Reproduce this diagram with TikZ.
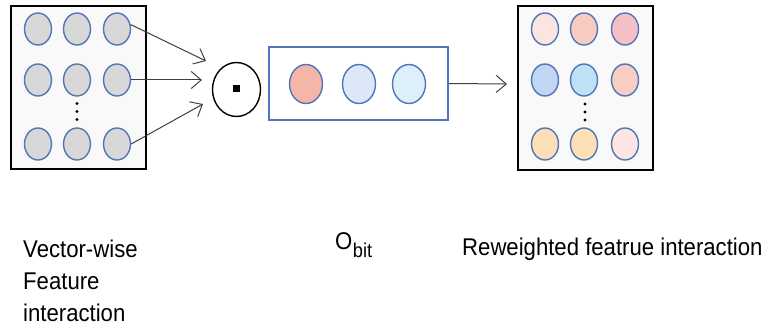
\documentclass[tikz,border=0pt]{standalone}
\usepackage{fontspec}
\setmainfont{Liberation Sans}[FakeStretch=0.915]
\usetikzlibrary{arrows.meta,shapes.geometric}

\definecolor{ringblue}{HTML}{4F76B8}
\definecolor{boxgray}{HTML}{F9F9F9}
\definecolor{cellgray}{HTML}{D8D8D8}
\definecolor{arrowgray}{HTML}{404040}
\definecolor{pa}{HTML}{FCE4E0}
\definecolor{pb}{HTML}{F8CBC0}
\definecolor{pc}{HTML}{F5BFC8}
\definecolor{ba}{HTML}{C2D5F2}
\definecolor{bb}{HTML}{BDE3F5}
\definecolor{pd}{HTML}{F9CDC4}
\definecolor{oa}{HTML}{FDDFB5}
\definecolor{pe}{HTML}{FDE5E2}
\definecolor{wa}{HTML}{F4B6A6}
\definecolor{wb}{HTML}{DCE7F8}
\definecolor{wc}{HTML}{DDEFFA}

\tikzset{
  panel/.style={draw=black, line width=2.4pt, fill=boxgray},
  cell/.style={ellipse, draw=ringblue, line width=1.4pt, inner sep=0pt,
               minimum width=27pt, minimum height=32pt},
  wcell/.style={ellipse, draw=ringblue, line width=1.4pt, inner sep=0pt,
               minimum width=33pt, minimum height=39pt},
  vdot/.style={circle, fill=black, inner sep=0pt, minimum size=3.4pt},
  feed/.style={draw=arrowgray, line width=1pt,
               -{Straight Barb[length=10pt,width=17pt,line width=1pt]}},
  caption/.style={anchor=base west, inner sep=0pt, font=\fontsize{24.2}{32}\selectfont}
}

\begin{document}
\begin{tikzpicture}[x=1pt,y=-1pt]
\useasboundingbox (0,0) rectangle (766,329);

% input interaction matrix
\node[panel, minimum width=135pt, minimum height=163pt, inner sep=0pt] (inbox) at (78.5,87.5) {};
\node[cell, fill=cellgray] (c11) at (38,29) {};
\node[cell, fill=cellgray] (c12) at (77,29) {};
\node[cell, fill=cellgray] (c13) at (117,29) {};
\node[cell, fill=cellgray] (c21) at (38,80) {};
\node[cell, fill=cellgray] (c22) at (77,80) {};
\node[cell, fill=cellgray] (c23) at (117,80) {};
\node[cell, fill=cellgray] (c31) at (38,144) {};
\node[cell, fill=cellgray] (c32) at (77,144) {};
\node[cell, fill=cellgray] (c33) at (117,144) {};
\node[vdot] (ld1) at (77,103.5) {};
\node[vdot] (ld2) at (77,111.5) {};
\node[vdot] (ld3) at (77,119.5) {};

% element-wise product operator
\node[ellipse, draw=black, line width=1.4pt, minimum width=48pt, minimum height=54pt, inner sep=0pt] (prod) at (236.5,89.5) {};
\node[rectangle, fill=black, minimum size=7pt, inner sep=0pt] (prodc) at (236,89) {};

\coordinate (t1) at (206,61);
\coordinate (t2) at (202,80);
\coordinate (t3) at (203,104);
\draw[feed] (c13.18) -- (t1);
\draw[feed] (c23.east) -- (t2);
\draw[feed] (c33.east) -- (t3);

% bit-wise weight vector
\node[draw=ringblue, line width=1.5pt, fill=white, minimum width=179pt, minimum height=73pt, inner sep=0pt] (wbox) at (358.5,83.5) {};
\node[wcell, fill=wa] (w1) at (306,84) {};
\node[wcell, fill=wb] (w2) at (359,84) {};
\node[wcell, fill=wc] (w3) at (409,84) {};

\coordinate (t4) at (507,84);
\draw[feed] (wbox.east) -- (t4);

% reweighted interaction matrix
\node[panel, minimum width=135pt, minimum height=164pt, inner sep=0pt] (outbox) at (585.5,88) {};
\node[cell, fill=pa] (r11) at (545,29) {};
\node[cell, fill=pb] (r12) at (584,29) {};
\node[cell, fill=pc] (r13) at (625,29) {};
\node[cell, fill=ba] (r21) at (545,80) {};
\node[cell, fill=bb] (r22) at (584,80) {};
\node[cell, fill=pd] (r23) at (625,80) {};
\node[cell, fill=oa] (r31) at (545,144) {};
\node[cell, fill=oa] (r32) at (584,144) {};
\node[cell, fill=pe] (r33) at (625,144) {};
\node[vdot] (rd1) at (585,104) {};
\node[vdot] (rd2) at (585,112) {};
\node[vdot] (rd3) at (585,120) {};

% captions
\node[caption] (lab1) at (23,257) {Vector-wise};
\node[caption] (lab2) at (23,289) {Feature};
\node[caption] (lab3) at (23,321) {interaction};
\node[caption] (labO) at (335,249) {O};
\node[anchor=base west, inner sep=0pt, font=\fontsize{20}{20}\selectfont] (labbit) at (labO.base east) [yshift=-8pt] {bit};
\node[caption] (lab4) at (462,255) {Reweighted featrue interaction};
\end{tikzpicture}
\end{document}
